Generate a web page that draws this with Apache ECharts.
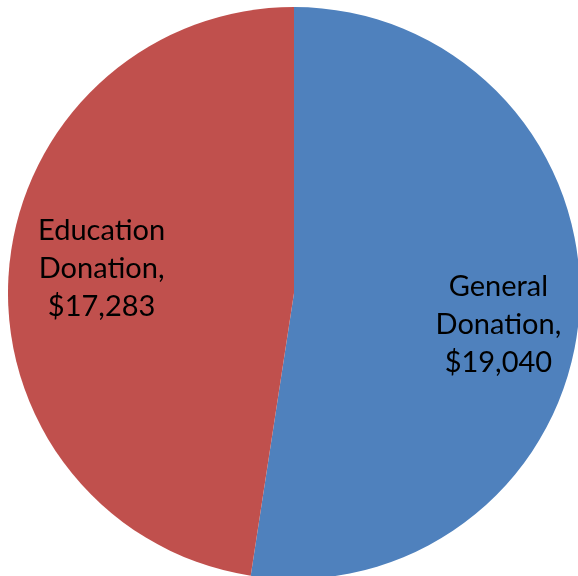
<!DOCTYPE html>
<html>
<head>
<meta charset="utf-8">
<script src="https://cdn.jsdelivr.net/npm/echarts@6/dist/echarts.min.js"></script>
<style>
  html, body { margin: 0; padding: 0; background: #fff; }
  #main { width: 578px; height: 576px; }
</style>
</head>
<body>
<div id="main"></div>
<script>
const categories = ['General Donation', 'Education Donation'];
const values = [19040, 17283];
const colors = ['#4F81BD', '#C0504D'];
// small nudges so labels sit where the original placed them
const labelShift = [[2, 16], [10, -9]];

const pieData = categories.map((name, i) => ({
    name: name,
    value: values[i],
    itemStyle: { color: colors[i] }
}));

let myChart = echarts.init(document.getElementById('main'));
myChart.setOption({
    animation: false,
    series: [{
        type: 'pie',
        center: [294, 293],
        radius: 286,
        startAngle: 90,
        clockwise: true,
        silent: true,
        label: { show: false },
        labelLine: { show: false },
        data: pieData
    }, {
        // invisible ring used only to place the labels further out
        type: 'pie',
        center: [294, 293],
        radius: 400,
        startAngle: 90,
        clockwise: true,
        silent: true,
        itemStyle: { color: 'rgba(0,0,0,0)' },
        label: {
            show: true,
            position: 'inside',
            fontFamily: 'Lato',
            fontSize: 29,
            lineHeight: 38,
            color: '#000',
            align: 'center',
            formatter: function (p) {
                let parts = p.name.split(' ');
                return parts[0] + '\n' + parts[1] + ',\n$' + p.value.toLocaleString('en-US');
            }
        },
        labelLayout: function (params) {
            let s = labelShift[params.dataIndex];
            return { dx: s[0], dy: s[1] };
        },
        labelLine: { show: false },
        data: categories.map((name, i) => ({ name: name, value: values[i] }))
    }]
});
</script>
</body>
</html>
